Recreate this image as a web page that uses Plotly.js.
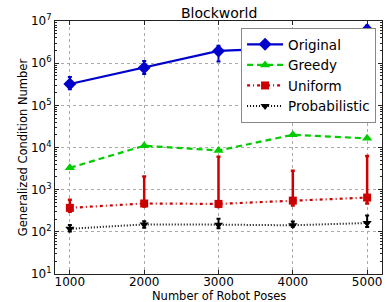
<!DOCTYPE html>
<html>
<head>
<meta charset="utf-8">
<script src="https://cdn.plot.ly/plotly-3.0.1.min.js"></script>
<style>html,body{margin:0;padding:0;background:#fff;}#chart{width:390px;height:302px;}</style>
</head>
<body>
<div id="chart"></div>
<script>
const poses = [1000, 2000, 3000, 4000, 5000];

const original = [3.2e5, 7.8e5, 1.95e6, 2.3e6, 6.2e6];
const originalLow = [2.4e5, 5.5e5, 1.1e6, 1.6e6, 4.6e6];
const originalHigh = [4.7e5, 1.12e6, 2.6e6, 3.1e6, 7.8e6];

const greedy = [3.3e3, 1.1e4, 8.5e3, 2.0e4, 1.65e4];

const uniform = [370, 470, 460, 550, 650];
const uniformLow = [300, 400, 390, 420, 470];
const uniformHigh = [580, 2050, 6000, 2800, 6300];

const probabilistic = [118, 150, 148, 143, 162];
const probLow = [102, 125, 122, 132, 130];
const probHigh = [145, 178, 205, 175, 245];

const yTickVals = [10, 100, 1000, 10000, 100000, 1000000, 10000000];
const yTickText = ['10<sup>1</sup>','10<sup>2</sup>','10<sup>3</sup>','10<sup>4</sup>','10<sup>5</sup>','10<sup>6</sup>','10<sup>7</sup>'];
const xTickVals = [1000, 2000, 3000, 4000, 5000];
const xTitle = 'Number of Robot Poses';

function up(v, h) { return v.map((x, i) => h[i] - x); }
function dn(v, l) { return v.map((x, i) => x - l[i]); }

const blue = '#0000cc', green = '#00cc00', red = '#cc0000', black = '#000000';

const traces = [
  {
    x: poses, y: original, name: 'Original', mode: 'lines+markers',
    line: {color: blue, width: 2.2},
    marker: {symbol: 'diamond', size: 10, color: blue},
    error_y: {type: 'data', symmetric: false, array: up(original, originalHigh), arrayminus: dn(original, originalLow), color: blue, thickness: 2, width: 2}
  },
  {
    x: poses, y: greedy, name: 'Greedy', mode: 'lines+markers',
    line: {color: green, width: 2.2, dash: '6px,4px'},
    marker: {symbol: 'triangle-up', size: 9, color: green}
  },
  {
    x: poses, y: uniform, name: 'Uniform', mode: 'lines+markers',
    line: {color: red, width: 2.2, dash: '3px,3px,1px,3px'},
    marker: {symbol: 'square', size: 8, color: red},
    error_y: {type: 'data', symmetric: false, array: up(uniform, uniformHigh), arrayminus: dn(uniform, uniformLow), color: red, thickness: 2.5, width: 2}
  },
  {
    x: poses, y: probabilistic, name: 'Probabilistic', mode: 'lines+markers',
    line: {color: black, width: 2, dash: '1px,2px'},
    marker: {symbol: 'triangle-down', size: 8, color: black},
    error_y: {type: 'data', symmetric: false, array: up(probabilistic, probHigh), arrayminus: dn(probabilistic, probLow), color: black, thickness: 2, width: 2}
  }
];

const layout = {
  width: 390, height: 302,
  margin: {l: 55, r: 8, t: 21, b: 28},
  paper_bgcolor: '#fff', plot_bgcolor: '#fff',
  font: {family: 'DejaVu Sans, sans-serif', color: '#000'},
  title: {text: 'Blockworld', font: {size: 14, color: '#000'}, x: 0.562, xanchor: 'center', y: 0.957, yanchor: 'middle'},
  showlegend: true,
  legend: {x: 0.569, y: 0.972, xanchor: 'left', yanchor: 'top', bgcolor: '#fff', bordercolor: '#888', borderwidth: 1, font: {size: 13.5, color: '#000'}, itemwidth: 36, tracegroupgap: 0},
  xaxis: {
    range: [800, 5200], tickvals: xTickVals, ticktext: xTickVals.map(String),
    ticks: 'inside', ticklen: 4, tickcolor: '#222', mirror: 'ticks', showline: true, linecolor: '#222', linewidth: 1,
    showgrid: true, gridcolor: '#aaa', griddash: 'dot', gridwidth: 1, zeroline: false,
    tickfont: {size: 12, color: '#000'}, ticklabelstandoff: -3,
    automargin: false
  },
  yaxis: {
    type: 'log', range: [1, 7], tickvals: yTickVals, ticktext: yTickText,
    ticks: 'inside', ticklen: 4, tickcolor: '#222', mirror: 'ticks', showline: true, linecolor: '#222', linewidth: 1,
    showgrid: true, gridcolor: '#aaa', griddash: 'dot', gridwidth: 1, zeroline: false,
    minor: {dtick: 'D1', ticks: 'inside', ticklen: 2, tickcolor: '#222', showgrid: false},
    tickfont: {size: 12, color: '#000'},
    automargin: false,
    title: {text: 'Generalized Condition Number', font: {size: 11.5, color: '#000'}, standoff: 0}
  },
  annotations: [
    {text: xTitle, xref: 'paper', yref: 'paper', x: 0.5, y: -0.087, xanchor: 'center', yanchor: 'middle', showarrow: false, font: {size: 11.5, color: '#000'}}
  ]
};

Plotly.newPlot('chart', traces, layout, {displayModeBar: false, staticPlot: true});
</script>
</body>
</html>
